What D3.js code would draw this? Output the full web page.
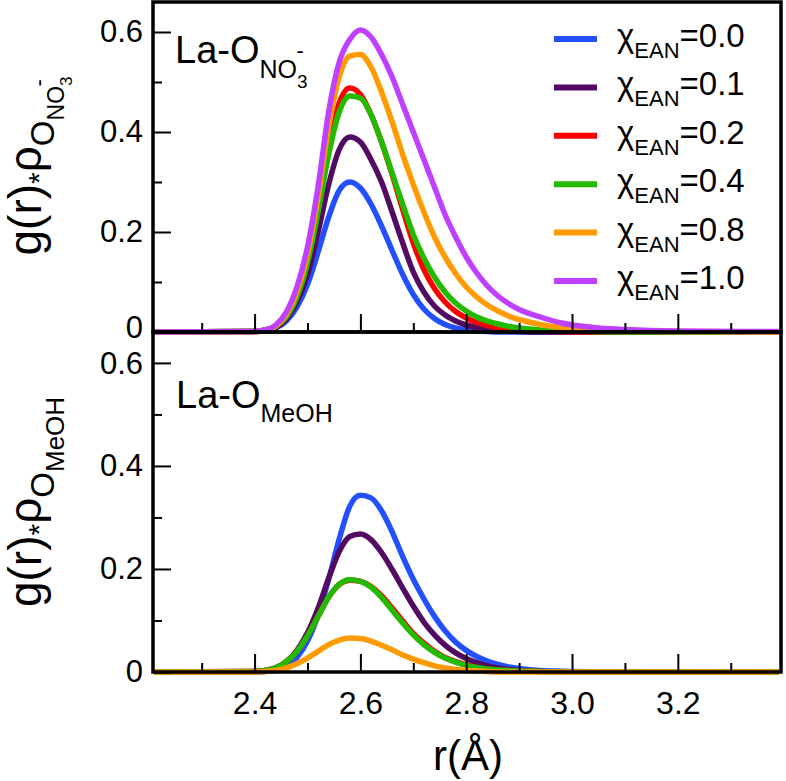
<!DOCTYPE html>
<html><head><meta charset="utf-8">
<script src="https://cdn.jsdelivr.net/npm/d3@7"></script>
<style>
body{margin:0;background:#fff}
svg{display:block}
text{font-family:"Liberation Sans",Arial,Helvetica,sans-serif;fill:#000}
</style>
</head><body>
<svg id="c" width="786" height="781"></svg>
<script>
// ---- data ----
const rGrid = [2.21,2.40,2.42,2.44,2.46,2.48,2.50,2.52,2.54,2.56,2.58,2.60,2.62,2.64,2.66,2.68,2.70,2.72,2.74,2.76,2.78,2.80,2.82,2.84,2.86,2.88,2.90,2.94,2.98,3.04,3.10,3.20,3.39];
const seriesLabels = ["0.0","0.1","0.2","0.4","0.8","1.0"];
const seriesColors = ["#2250ff","#520a62","#ff0000","#22bb00","#ff9a00","#bf40ff"];

// La-O(NO3-) panel
const no3_00 = [0,0.001,0.003,0.008,0.022,0.05,0.095,0.16,0.23,0.283,0.3,0.288,0.256,0.212,0.163,0.115,0.075,0.046,0.027,0.015,0.008,0.004,0.002,0.001,0,0,0,0,0,0,0,0,0];
const no3_01 = [0,0.001,0.003,0.009,0.026,0.06,0.115,0.2,0.295,0.365,0.39,0.38,0.345,0.3,0.24,0.178,0.12,0.08,0.052,0.034,0.022,0.014,0.009,0.006,0.004,0.002,0.001,0,0,0,0,0,0];
const no3_02 = [0,0.001,0.004,0.011,0.032,0.075,0.145,0.25,0.37,0.458,0.488,0.475,0.435,0.38,0.315,0.245,0.178,0.125,0.087,0.06,0.041,0.028,0.019,0.013,0.009,0.006,0.004,0.002,0.001,0,0,0,0];
const no3_04 = [0,0.001,0.004,0.011,0.03,0.07,0.138,0.24,0.355,0.44,0.472,0.468,0.435,0.38,0.318,0.255,0.195,0.148,0.11,0.08,0.058,0.042,0.03,0.022,0.016,0.011,0.008,0.004,0.002,0.001,0,0,0];
const no3_08 = [0,0.001,0.004,0.012,0.035,0.08,0.155,0.27,0.41,0.51,0.552,0.555,0.53,0.48,0.42,0.355,0.295,0.24,0.19,0.15,0.117,0.09,0.07,0.054,0.042,0.032,0.025,0.015,0.009,0.004,0.002,0.001,0];
const no3_10 = [0,0.001,0.004,0.014,0.04,0.09,0.17,0.29,0.44,0.54,0.585,0.604,0.59,0.555,0.51,0.455,0.40,0.345,0.29,0.235,0.19,0.15,0.118,0.092,0.072,0.057,0.045,0.03,0.018,0.009,0.005,0.002,0.001];

// La-O(MeOH) panel
const meoh_00 = [0,0,0.001,0.004,0.011,0.028,0.06,0.11,0.18,0.258,0.322,0.343,0.338,0.313,0.272,0.224,0.18,0.142,0.108,0.08,0.058,0.042,0.03,0.021,0.015,0.01,0.007,0.003,0.0015,0.0005,0,0,0];
const meoh_01 = [0,0.001,0.003,0.008,0.02,0.042,0.076,0.124,0.182,0.234,0.263,0.268,0.257,0.232,0.199,0.163,0.128,0.097,0.072,0.052,0.037,0.026,0.018,0.012,0.008,0.005,0.003,0.001,0,0,0,0,0];
const meoh_02 = [0,0.001,0.003,0.008,0.02,0.04,0.07,0.108,0.145,0.17,0.178,0.176,0.166,0.148,0.124,0.099,0.075,0.056,0.04,0.028,0.02,0.014,0.009,0.006,0.004,0.003,0.002,0.001,0,0,0,0,0];
const meoh_04 = [0,0.001,0.003,0.008,0.02,0.04,0.07,0.108,0.145,0.17,0.179,0.176,0.165,0.145,0.12,0.095,0.072,0.053,0.038,0.027,0.019,0.013,0.009,0.006,0.004,0.003,0.002,0.001,0,0,0,0,0];
const meoh_08 = [0,0,0.001,0.003,0.008,0.016,0.027,0.04,0.053,0.062,0.066,0.065,0.06,0.052,0.043,0.033,0.025,0.018,0.012,0.008,0.005,0.003,0.002,0.001,0,0,0,0,0,0,0,0,0];

const yTicksMajor = [0,0.2,0.4,0.6];
const yTickLabels = ["0","0.2","0.4","0.6"];
const yTicksMinor = [0.1,0.3,0.5];
const xTicksMajor = [2.4,2.6,2.8,3.0,3.2];
const xTickLabels = ["2.4","2.6","2.8","3.0","3.2"];
const xTicksMinor = [2.3,2.5,2.7,2.9,3.1,3.3];

// ---- layout ----
const svg = d3.select("#c");
const L = 153, R = 781;
const x = d3.scaleLinear().domain([2.208,3.395]).range([L,R]);
const panels = [
  {top:2, bottom:332, series:[no3_00,no3_01,no3_02,no3_04,no3_08,no3_10], colorIdx:[0,1,2,3,4,5], xLabels:false},
  {top:332, bottom:672, series:[meoh_00,meoh_01,meoh_02,meoh_04,meoh_08], colorIdx:[0,1,2,3,4], xLabels:true}
];
const FONT = '"Liberation Sans",Arial,Helvetica,sans-serif';

panels.forEach((p,pi)=>{
  const y = d3.scaleLinear().domain([0,0.66]).range([p.bottom,p.top]);
  const line = d3.line().x((d,i)=>x(rGrid[i])).y(d=>y(d)).curve(d3.curveMonotoneX);
  const g = svg.append("g");
  p.series.forEach((s,k)=>{
    g.append("path").attr("d",line(s)).attr("fill","none")
      .attr("stroke",seriesColors[p.colorIdx[k]]).attr("stroke-width",5.5)
      .attr("stroke-linejoin","round");
  });
  const ax = svg.append("g").attr("transform",`translate(${L},0)`)
    .call(d3.axisLeft(y).tickValues(yTicksMajor).tickFormat((d,i)=>yTickLabels[i]).tickSize(-18).tickPadding(10));
  ax.select(".domain").remove();
  ax.selectAll("line").attr("stroke","#000").attr("stroke-width",2);
  ax.selectAll("text").style("font-family",FONT).style("font-size","31px");
  // keep the shared-boundary labels ("0" above, "0.6" below) from colliding
  ax.selectAll("text").attr("y",d=> (pi===0 && d===0) ? -4 : (pi===1 && d===0.6 ? 1 : 0));
  const axm = svg.append("g").attr("transform",`translate(${L},0)`)
    .call(d3.axisLeft(y).tickValues(yTicksMinor).tickFormat("").tickSize(-9));
  axm.select(".domain").remove();
  axm.selectAll("line").attr("stroke","#000").attr("stroke-width",2);

  const bx = svg.append("g").attr("transform",`translate(0,${p.bottom})`)
    .call(d3.axisBottom(x).tickValues(xTicksMajor).tickFormat((d,i)=>p.xLabels?xTickLabels[i]:"").tickSize(-18).tickPadding(19));
  bx.select(".domain").remove();
  bx.selectAll("line").attr("stroke","#000").attr("stroke-width",2);
  bx.selectAll("text").style("font-family",FONT).style("font-size","32px");
  const bxm = svg.append("g").attr("transform",`translate(0,${p.bottom})`)
    .call(d3.axisBottom(x).tickValues(xTicksMinor).tickFormat("").tickSize(-9));
  bxm.select(".domain").remove();
  bxm.selectAll("line").attr("stroke","#000").attr("stroke-width",2);

  svg.append("rect").attr("x",L).attr("y",p.top).attr("width",R-L).attr("height",p.bottom-p.top)
    .attr("fill","none").attr("stroke","#000").attr("stroke-width",3.5);
});

// legend
const lg = svg.append("g");
seriesLabels.forEach((lab,i)=>{
  const yy = 39 + i*48.4;
  lg.append("line").attr("x1",554).attr("x2",597).attr("y1",yy).attr("y2",yy)
    .attr("stroke",seriesColors[i]).attr("stroke-width",6);
  const t = lg.append("text").attr("x",617).attr("y",yy+8).style("font-size","33px");
  t.append("tspan").text("χ");
  t.append("tspan").attr("dy",11).style("font-size","22px").text("EAN");
  t.append("tspan").attr("dy",-11).text("="+lab);
});

// panel annotations
const a1 = svg.append("text").attr("x",175).attr("y",63).style("font-size","38px");
a1.append("tspan").text("La-O");
a1.append("tspan").attr("dy",15).style("font-size","25px").text("NO");
a1.append("tspan").attr("dy",10).style("font-size","19px").text("3");
a1.append("tspan").attr("dx",-11).attr("dy",-30).style("font-size","22px").text("-");

const a2 = svg.append("text").attr("x",176).attr("y",408).style("font-size","38px");
a2.append("tspan").text("La-O");
a2.append("tspan").attr("dy",14).style("font-size","25px").text("MeOH");

// y-axis titles
function ytitle(cx, cy, subParts){
  const t = svg.append("text").attr("transform",`translate(${cx},${cy}) rotate(-90)`)
    .attr("text-anchor","middle").style("font-size","46px");
  t.append("tspan").text("g(r)");
  t.append("tspan").attr("dy",8).style("font-size","30px").text("*");
  t.append("tspan").attr("dy",-8).text("ρ");
  t.append("tspan").attr("dy",13).style("font-size","33px").text("O");
  subParts(t);
  return t;
}
ytitle(41,166,t=>{
  t.append("tspan").attr("dy",10).style("font-size","23px").text("NO");
  t.append("tspan").attr("dy",8).style("font-size","17px").text("3");
  t.append("tspan").attr("dx",-10).attr("dy",-26).style("font-size","22px").text("-");
});
ytitle(41,502,t=>{
  t.append("tspan").attr("dy",10).style("font-size","26px").text("MeOH");
});

// x-axis title
svg.append("text").attr("x",468).attr("y",770).attr("text-anchor","middle").style("font-size","42px").text("r(Å)");
</script>
</body></html>
